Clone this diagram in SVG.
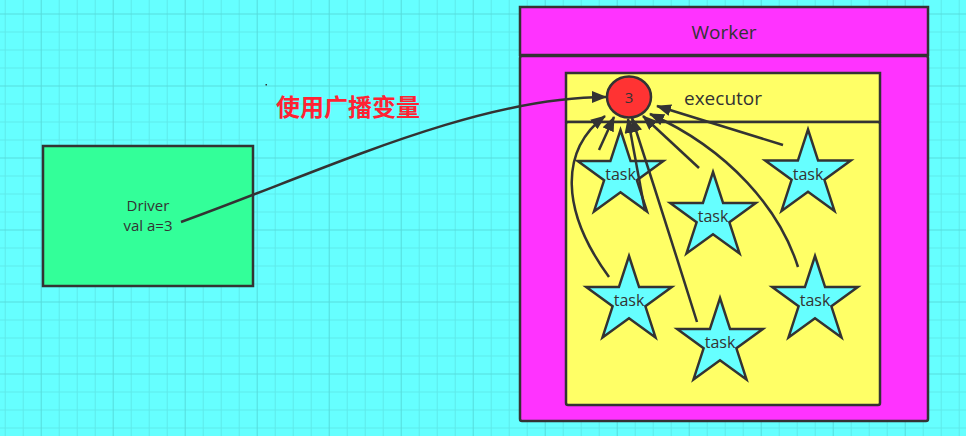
<svg xmlns="http://www.w3.org/2000/svg" width="966" height="436" viewBox="0 0 966 436">
<defs>
<pattern id="grid" patternUnits="userSpaceOnUse" x="31.7" y="4.5" width="72" height="72">
<path d="M27.5,0V72M45.5,0V72M63.5,0V72M0,27.5H72M0,45.5H72M0,63.5H72" stroke="#5eeaea" stroke-width="1" fill="none"/>
<path d="M9.5,0V72M0,9.5H72" stroke="#55dcdc" stroke-width="1" fill="none"/>
</pattern>
<marker id="arr" markerWidth="15" markerHeight="12" refX="14" refY="6" orient="auto" markerUnits="userSpaceOnUse">
<path d="M0,0L15,6L0,12z" fill="#333"/>
</marker>
<polygon id="star" points="0,-45 10.1,-13.9 42.8,-13.9 16.4,5.3 26.5,36.4 0,17.2 -26.5,36.4 -16.4,5.3 -42.8,-13.9 -10.1,-13.9"/>
</defs>
<style>
.box{stroke:#333;stroke-width:2.5}
.t{font-family:"Open Sans","Noto Sans",sans-serif;fill:#333}
.star{fill:#66ffff;stroke:#333;stroke-width:2.5;stroke-linejoin:miter}
.c{fill:none;stroke:#333;stroke-width:2.5}
</style>
<rect width="966" height="436" fill="#66ffff"/>
<rect width="966" height="436" fill="url(#grid)"/>
<rect x="265.5" y="84" width="1.5" height="1.5" fill="#333"/>
<g id="driver">
<rect class="box" x="43" y="146" width="210" height="140" fill="#33ff99"/>
<text class="t" x="148" y="210.5" font-size="15" text-anchor="middle">Driver</text>
<text class="t" x="148" y="231" font-size="15" text-anchor="middle">val a=3</text>
</g>
<text id="label" x="276" y="116" font-family="'Noto Sans CJK SC',sans-serif" font-size="24" font-weight="bold" fill="#ff2233">使用广播变量</text>
<g id="worker">
<rect class="box" x="520" y="7" width="408" height="48" fill="#ff33ff"/>
<rect class="box" x="520" y="56" width="408" height="365" rx="2" fill="#ff33ff"/>
<text class="t" x="724" y="39" font-size="19" text-anchor="middle">Worker</text>
</g>
<g id="executor">
<rect class="box" x="566" y="73" width="314" height="49" fill="#ffff66"/>
<rect class="box" x="566" y="122" width="314" height="283" rx="2" fill="#ffff66"/>
<text class="t" x="684" y="105" font-size="19">executor</text>
</g>
<g id="var">
<ellipse class="box" cx="629" cy="97" rx="22" ry="20.5" fill="#ff3333"/>
<text class="t" x="629" y="103" font-size="15" text-anchor="middle">3</text>
</g>
<g id="task1"><use href="#star" class="star" x="620.5" y="175"/><text class="t" x="620.5" y="180" font-size="16" text-anchor="middle">task</text></g>
<g id="task2"><use href="#star" class="star" x="713" y="217"/><text class="t" x="713" y="222" font-size="16" text-anchor="middle">task</text></g>
<g id="task3"><use href="#star" class="star" x="808" y="174.5"/><text class="t" x="808" y="179.5" font-size="16" text-anchor="middle">task</text></g>
<g id="task4"><use href="#star" class="star" x="629" y="301"/><text class="t" x="629" y="306" font-size="16" text-anchor="middle">task</text></g>
<g id="task5"><use href="#star" class="star" x="720" y="343"/><text class="t" x="720" y="348" font-size="16" text-anchor="middle">task</text></g>
<g id="task6"><use href="#star" class="star" x="815" y="301"/><text class="t" x="815" y="306" font-size="16" text-anchor="middle">task</text></g>
<g id="connectors">
<path class="c" marker-end="url(#arr)" d="M181,222C320,172 475,97 606,97"/>
<path class="c" marker-end="url(#arr)" d="M599,150L614,117"/>
<path class="c" marker-end="url(#arr)" d="M609,277C560,210 560,150 605,116"/>
<path class="c" marker-end="url(#arr)" d="M697,322Q665,220 632,118"/>
<path class="c" marker-end="url(#arr)" d="M645,211L628,119"/>
<path class="c" marker-end="url(#arr)" d="M699,168L643,116"/>
<path class="c" marker-end="url(#arr)" d="M798,267C780,210 730,150 650,114"/>
<path class="c" marker-end="url(#arr)" d="M783,145L657,106"/>
</g>
</svg>
